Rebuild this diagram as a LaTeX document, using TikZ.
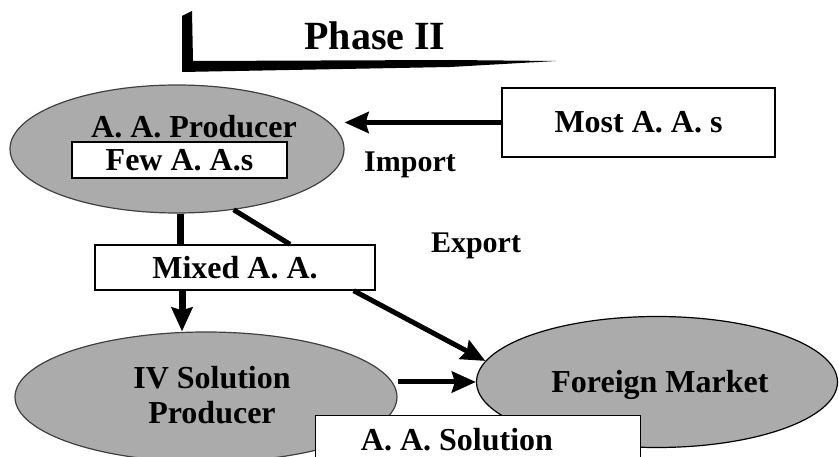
\documentclass[tikz,border=0pt]{standalone}
\usepackage{fontspec}
\setmainfont{Liberation Serif}
\usetikzlibrary{shapes.geometric,arrows.meta}
\begin{document}
\begin{tikzpicture}[x=1pt,y=-1pt,
  blob/.style={ellipse,draw=black!75,line width=1.2pt,fill=black!33,inner sep=0pt},
  plate/.style={rectangle,draw=black,line width=1.3pt,fill=white,inner sep=0pt,
                font=\fontsize{32}{36}\selectfont\bfseries},
  word/.style={font=\fontsize{32}{35}\selectfont\bfseries,inner sep=0pt},
  tag/.style={font=\fontsize{30}{34}\selectfont\bfseries,inner sep=0pt,anchor=base},
  link/.style={line width=5pt},
  flow/.style={line width=5pt,-{Stealth[length=24pt,width=21pt,inset=3pt]}},
]
\useasboundingbox (0,0) rectangle (839,457);
\clip (0,0) rectangle (839,457);
\fill[white] (0,0) rectangle (839,457);

% heading bracket and title
\fill (182,16) -- (192,11) -- (193,61) -- (450,60) -- (556,61) -- (450,67) -- (182,72) -- cycle;
\node[inner sep=0pt,font=\fontsize{40}{44}\selectfont\bfseries,anchor=base] (phase) at (375,50) {Phase II};

% ellipses
\node[blob,minimum width=334pt,minimum height=128pt] (prod) at (177,149) {};
\node[word] (prodtxt) at (194,127) {A. A. Producer};
\node[plate,minimum width=215pt,minimum height=36pt] (few) at (179.5,160) {Few A. A.s};

\node[blob,minimum width=382pt,minimum height=130pt] (iv) at (206,397) {};
\node[word,align=center] (ivtxt) at (212,395) {IV Solution\\Producer};

\node[blob,draw=black,minimum width=361pt,minimum height=131pt] (fm) at (657,382) {};
\node[word,anchor=base] (fmtxt) at (660,392) {Foreign Market};

% boxes
\node[plate,minimum width=273pt,minimum height=69pt] (most) at (638.5,122.5) {Most A. A. s};
\node[plate,minimum width=280pt,minimum height=45pt] (mixed) at (235,267.5) {Mixed A. A.};

% connectors
\draw[flow] (most.west) -- (most.west -| prod.east);
\draw[link,line width=7pt] ([xshift=3pt]prod.south) -- ([xshift=3pt]prod.south |- mixed.north);
\draw[link] (prod.-47) -- ([xshift=55pt]mixed.north);
\draw[flow,line width=7pt] ([xshift=-53pt]mixed.south) -- ([xshift=-53pt]mixed.south |- iv.north);
\draw[flow] ([xshift=-22pt]mixed.south east) -- (fm.173);
\draw[flow] (iv.east |- fm.west) -- (fm.west);

% labels on the flows
\node[tag] (import) at (410,172) {Import};
\node[tag] (export) at (476,253) {Export};

% solution box along the bottom edge
\node[plate,minimum width=325pt,minimum height=60pt,anchor=north west] (sol) at (315,415) {};
\node[word,anchor=base] (soltxt) at (457,450) {A. A. Solution};
\end{tikzpicture}
\end{document}
